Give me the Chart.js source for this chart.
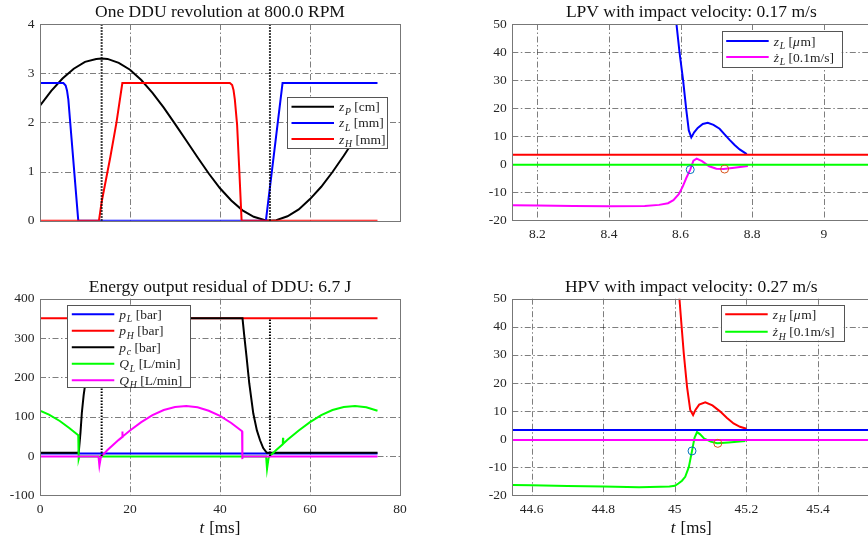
<!DOCTYPE html>
<html>
<head>
<meta charset="utf-8">
<script src="https://cdn.jsdelivr.net/npm/chart.js@4.4.1/dist/chart.umd.min.js"></script>
<style>
  html, body { margin: 0; padding: 0; background: #fff; overflow: hidden; }
  #fig { position: relative; width: 868px; height: 542px; overflow: hidden; }
  #fig canvas { position: absolute; }
</style>
</head>
<body>
<div id="fig">
  <canvas id="ddu" width="434" height="271" style="left:0;top:0"></canvas>
  <canvas id="energy" width="434" height="271" style="left:0;top:271px"></canvas>
  <canvas id="lpv" width="466" height="271" style="left:434px;top:0"></canvas>
  <canvas id="hpv" width="466" height="271" style="left:434px;top:271px"></canvas>
</div>
<script>
// ---- one DDU revolution (t in ms) ----
const tPiston = [0,2.5,5,7.5,10,12.5,13.7,15,17.5,20,22.5,25,27.5,30,32.5,35,37.5,40,42.5,45,47.5,50,51.1,52.5,55,57.5,60,62.5,65,67.5,70,72.5,75];
const zPiston = [2.34,2.64,2.89,3.09,3.23,3.29,3.30,3.29,3.21,3.07,2.86,2.60,2.30,1.97,1.63,1.29,0.96,0.66,0.41,0.21,0.08,0.01,0,0.01,0.09,0.23,0.44,0.69,0.99,1.32,1.67,2.01,2.34];
const tZL = [0,5.2,5.7,6.0,6.3,7,7.5,8,8.5,50.2,53.9,75];
const zL = [2.8,2.8,2.75,2.65,2.46,1.68,1.12,0.56,0,0,2.8,2.8];
const tZH = [0,13.1,13.7,15.6,17,18.3,42.2,42.7,43.0,43.3,43.8,44.3,44.8,75];
const zH = [0,0,0.38,1.28,2.0,2.8,2.8,2.76,2.66,2.46,1.95,1.0,0,0];
const tDeadCentre = [13.7, 51.1];

// ---- energy / pressures / flows ----
const tPL = [0, 75];
const pL = [6, 6];
const tPH = [0, 75];
const pH = [350, 350];
const tPc = [0,8.6,9.0,9.3,9.7,10.2,10.8,11.5,12.3,13.0,45.0,45.4,45.9,46.5,47.4,48.2,48.9,49.6,50.4,75];
const pc = [8,8,60,110,155,195,245,295,335,350,350,305,252,185,108,65,40,20,8,8];
const tQL = [0,0,2,4.4,6.5,8.5,8.6,8.75,50.25,50.45,50.8,51.1,52.5,53.95,54.0,54.05,55,57.5,60,62.5,65,67.5,70,72.5,75];
const QL = [147,115,105,89,71,53,-8,-1.5,-1.5,-33,-5,0,15,30,46,31,41,65,86,104,117,124.5,127,124,115];
const tQH = [0,13.0,13.2,13.5,13.7,15,17.5,18.25,18.3,18.35,20,22.5,25,27.5,30,32.5,35,37.5,40,42.5,44.9,44.9,45.05,75];
const QH = [-1.5,-1.5,-25,-5,0,15,41,48,62,49,65,86,104,117,124.5,127,124,115,102,84,63,-8,-1.5,-1.5];
const pcDotTop = 350;

// ---- LPV closing ----
const tLpvZ = [8.586,8.597,8.607,8.616,8.623,8.630,8.638,8.648,8.662,8.676,8.692,8.709,8.723,8.737,8.751,8.765,8.785];
const lpvZ = [53,40,30,19.3,12,9.5,11.3,12.9,14.3,14.7,14.0,12.6,10.6,8.6,6.8,5.2,3.5];
const tLpvV = [8.13,8.2,8.3,8.4,8.5,8.54,8.565,8.58,8.595,8.606,8.616,8.627,8.636,8.645,8.66,8.68,8.70,8.72,8.75,8.788];
const lpvV = [-14.7,-14.85,-15.0,-15.1,-15.0,-14.6,-14.0,-12.9,-10.8,-8.1,-5.0,-2.0,1.2,1.9,1.0,-0.8,-1.7,-1.8,-1.3,-0.7];
const tLpvSpan = [8.13, 9.13];
const lpvOtherZ = [3.3, 3.3];
const lpvOtherV = [-0.3, -0.3];
const tLpvMarks = [8.627, 8.723];
const vLpvMarks = [-2.0, -1.8];

// ---- HPV closing ----
const tHpvZ = [45.011,45.019,45.025,45.034,45.043,45.051,45.058,45.068,45.085,45.105,45.127,45.145,45.164,45.182,45.2];
const hpvZ = [53,40,30.5,18.7,10.4,8.6,10.5,12.3,13.1,12.0,9.8,7.6,5.6,4.4,3.7];
const tHpvV = [44.546,44.6,44.7,44.8,44.9,44.96,44.985,45.0,45.01,45.02,45.029,45.039,45.048,45.055,45.062,45.07,45.081,45.1,45.118,45.15,45.197];
const hpvV = [-16.3,-16.4,-16.7,-16.9,-17.1,-17.0,-16.9,-16.6,-15.8,-14.8,-13.4,-10.0,-4.2,0.5,2.5,1.8,0.3,-0.9,-1.5,-1.2,-0.7];
const tHpvSpan = [44.546, 45.546];
const hpvOtherZ = [3.25, 3.25];
const hpvOtherV = [-0.3, -0.3];
const tHpvMarks = [45.048, 45.120];
const vHpvMarks = [-4.2, -1.5];

// ---- ticks ----
const msTicks = [0, 20, 40, 60, 80];
const dduY = [0, 1, 2, 3, 4];
const energyY = [-100, 0, 100, 200, 300, 400];
const lpvX = [8.2, 8.4, 8.6, 8.8, 9];
const hpvX = [44.6, 44.8, 45, 45.2, 45.4];
const valveY = [-20, -10, 0, 10, 20, 30, 40, 50];

const SERIF = '"Liberation Serif", "Times New Roman", serif';
const markColors = ['#0072BD', '#D95319'];

function series(ts, vs, color, extra) {
    return Object.assign({
        data: ts.map((t, i) => ({ x: t, y: vs[i] })),
        borderColor: color,
        borderWidth: 2,
        pointRadius: 0,
        fill: false,
        tension: 0
    }, extra || {});
}

function marks(ts, vs) {
    return ts.map((t, i) => ({
        data: [{ x: t, y: vs[i] }],
        showLine: false,
        pointRadius: 4,
        pointBorderWidth: 1,
        pointBorderColor: markColors[i],
        pointBackgroundColor: 'rgba(0,0,0,0)',
        borderColor: markColors[i]
    }));
}

// text with italic / subscript pieces
function drawRich(ctx, x, y, segs, size) {
    segs.forEach(([txt, f]) => {
        const it = f.indexOf('i') >= 0, sub = f.indexOf('s') >= 0;
        const fs = sub ? size * 0.72 : size;
        ctx.font = (it ? 'italic ' : '') + fs + 'px ' + SERIF;
        ctx.fillText(txt, x, sub ? y + size * 0.25 : y);
        x += ctx.measureText(txt).width + (it && !sub ? 0.8 : 0);
    });
    return x;
}

const matlabAxes = {
    id: 'matlabAxes',
    beforeDatasetsDraw(chart) {
        const { ctx, chartArea: a, scales: { x, y } } = chart;
        ctx.save();
        ctx.strokeStyle = 'rgba(40,40,40,0.6)';
        ctx.lineWidth = 1;
        ctx.setLineDash([6, 2.5, 1.5, 2.5]);
        ctx.beginPath();
        x.ticks.forEach(t => {
            if (t.value <= x.min || t.value >= x.max) return;
            const px = Math.round(x.getPixelForValue(t.value)) + 0.5;
            ctx.moveTo(px, a.top);
            ctx.lineTo(px, a.bottom);
        });
        y.ticks.forEach(t => {
            if (t.value <= y.min || t.value >= y.max) return;
            const py = Math.round(y.getPixelForValue(t.value)) + 0.5;
            ctx.moveTo(a.left, py);
            ctx.lineTo(a.right, py);
        });
        ctx.stroke();
        ctx.restore();
    },
    afterDraw(chart, args, opts) {
        const { ctx, chartArea: a } = chart;
        ctx.save();
        // box
        ctx.strokeStyle = '#777';
        ctx.lineWidth = 1;
        const l = Math.round(a.left) + 0.5, t = Math.round(a.top) + 0.5;
        ctx.strokeRect(l, t, Math.round(a.right) - Math.round(a.left), Math.round(a.bottom) - Math.round(a.top));

        // title
        ctx.fillStyle = '#111';
        ctx.textAlign = 'center';
        ctx.textBaseline = 'alphabetic';
        ctx.font = '17.5px ' + SERIF;
        ctx.fillText(opts.title, (a.left + a.right) / 2, a.top - 7);

        // x label
        if (opts.xlabel) {
            ctx.textAlign = 'left';
            ctx.font = 'italic 17px ' + SERIF;
            const w1 = ctx.measureText('t').width + 1;
            ctx.font = '17px ' + SERIF;
            const w2 = ctx.measureText(' [ms]').width;
            const x0 = (a.left + a.right) / 2 - (w1 + w2) / 2;
            drawRich(ctx, x0, a.bottom + 38, [['t', 'i'], [' [ms]', '']], 17);
        }

        // legend
        const L = opts.legend;
        if (L) {
            ctx.fillStyle = '#fff';
            ctx.fillRect(L.x, L.y, L.w, L.h);
            ctx.strokeStyle = '#555';
            ctx.lineWidth = 1;
            ctx.strokeRect(Math.round(L.x) + 0.5, Math.round(L.y) + 0.5, Math.round(L.w), Math.round(L.h));
            L.items.forEach((segs, i) => {
                const yy = L.y0 + i * L.dy;
                ctx.strokeStyle = chart.data.datasets[i].borderColor;
                ctx.lineWidth = 2;
                ctx.beginPath();
                ctx.moveTo(L.x + 4.5, yy);
                ctx.lineTo(L.x + 47, yy);
                ctx.stroke();
                ctx.fillStyle = '#222';
                ctx.textAlign = 'left';
                ctx.textBaseline = 'alphabetic';
                drawRich(ctx, L.x + 52, yy + 4.5, segs, 13.5);
            });
        }
        ctx.restore();
    }
};

function makeAxes(id, box, xRange, yRange, xTicks, yTicks, showX, datasets, look) {
    const cv = document.getElementById(id);
    const W = cv.width, H = cv.height;
    const tickFont = { family: SERIF, size: 13.5 };
    return new Chart(cv, {
        type: 'line',
        data: { datasets: datasets.map((d, i) => Object.assign(d, { order: -i })) },
        options: {
            responsive: false,
            animation: false,
            events: [],
            layout: { padding: { left: 0, top: box.top, right: W - box.right, bottom: 0 } },
            plugins: {
                legend: { display: false },
                tooltip: { enabled: false },
                matlabAxes: look
            },
            scales: {
                x: {
                    type: 'linear',
                    min: xRange[0],
                    max: xRange[1],
                    afterFit: s => { s.height = H - box.bottom; },
                    afterBuildTicks: s => { s.ticks = xTicks.map(v => ({ value: v })); },
                    ticks: {
                        display: showX,
                        padding: 6.5,
                        color: '#262626',
                        font: tickFont,
                        autoSkip: false,
                        maxRotation: 0,
                        callback: v => String(v)
                    },
                    grid: { display: false, drawTicks: false },
                    border: { display: false }
                },
                y: {
                    type: 'linear',
                    min: yRange[0],
                    max: yRange[1],
                    afterFit: s => { s.width = box.left; },
                    afterBuildTicks: s => { s.ticks = yTicks.map(v => ({ value: v })); },
                    ticks: {
                        padding: 5.5,
                        color: '#262626',
                        font: tickFont,
                        autoSkip: false,
                        callback: v => String(v)
                    },
                    grid: { display: false, drawTicks: false },
                    border: { display: false }
                }
            }
        },
        plugins: [matlabAxes]
    });
}

const dotted = { borderDash: [1.5, 1.5], borderWidth: 2 };

makeAxes('ddu', { left: 40, top: 24, right: 400, bottom: 220.7 }, [0, 80], [0, 4], msTicks, dduY, false, [
    series(tPiston, zPiston, '#000000'),
    series(tZL, zL, '#0000ff'),
    series(tZH, zH, '#ff0000'),
    series([tDeadCentre[0], tDeadCentre[0]], [0, 4], '#000000', dotted),
    series([tDeadCentre[1], tDeadCentre[1]], [0, 4], '#000000', dotted)
], {
    title: 'One DDU revolution at 800.0 RPM',
    legend: {
        x: 287, y: 97, w: 100, h: 51, y0: 106.7, dy: 16.2,
        items: [
            [['z', 'i'], ['P', 'is'], [' [cm]', '']],
            [['z', 'i'], ['L', 'is'], [' [mm]', '']],
            [['z', 'i'], ['H', 'is'], [' [mm]', '']]
        ]
    }
});

makeAxes('energy', { left: 40, top: 27.7, right: 400, bottom: 224.3 }, [0, 80], [-100, 400], msTicks, energyY, true, [
    series(tPL, pL, '#0000ff'),
    series(tPH, pH, '#ff0000'),
    series(tPc, pc, '#000000'),
    series(tQL, QL, '#00ff00'),
    series(tQH, QH, '#ff00ff'),
    series([tDeadCentre[0], tDeadCentre[0]], [0, pcDotTop], '#000000', dotted),
    series([tDeadCentre[1], tDeadCentre[1]], [0, pcDotTop], '#000000', dotted)
], {
    title: 'Energy output residual of DDU: 6.7 J',
    xlabel: true,
    legend: {
        x: 67.3, y: 34, w: 123, h: 82, y0: 43.3, dy: 16.5,
        items: [
            [['p', 'i'], ['L', 'is'], [' [bar]', '']],
            [['p', 'i'], ['H', 'is'], [' [bar]', '']],
            [['p', 'i'], ['c', 'is'], [' [bar]', '']],
            [['Q', 'i'], ['L', 'is'], [' [L/min]', '']],
            [['Q', 'i'], ['H', 'is'], [' [L/min]', '']]
        ]
    }
});

makeAxes('lpv', { left: 78.3, top: 24, right: 436.3, bottom: 220 }, tLpvSpan, [-20, 50], lpvX, valveY, true, [
    series(tLpvZ, lpvZ, '#0000ff'),
    series(tLpvV, lpvV, '#ff00ff'),
    series(tLpvSpan, lpvOtherZ, '#ff0000'),
    series(tLpvSpan, lpvOtherV, '#00ff00')
].concat(marks(tLpvMarks, vLpvMarks)), {
    title: 'LPV with impact velocity: 0.17 m/s',
    legend: {
        x: 287.7, y: 31, w: 120, h: 36, y0: 41, dy: 16,
        items: [
            [['z', 'i'], ['L', 'is'], [' [', ''], ['μ', 'i'], ['m]', '']],
            [['ż', 'i'], ['L', 'is'], [' [0.1m/s]', '']]
        ]
    }
});

makeAxes('hpv', { left: 78.3, top: 27.7, right: 436.3, bottom: 224.3 }, tHpvSpan, [-20, 50], hpvX, valveY, true, [
    series(tHpvZ, hpvZ, '#ff0000'),
    series(tHpvV, hpvV, '#00ff00'),
    series(tHpvSpan, hpvOtherZ, '#0000ff'),
    series(tHpvSpan, hpvOtherV, '#ff00ff')
].concat(marks(tHpvMarks, vHpvMarks)), {
    title: 'HPV with impact velocity: 0.27 m/s',
    xlabel: true,
    legend: {
        x: 286.7, y: 34, w: 122.6, h: 35.7, y0: 43.3, dy: 17.4,
        items: [
            [['z', 'i'], ['H', 'is'], [' [', ''], ['μ', 'i'], ['m]', '']],
            [['ż', 'i'], ['H', 'is'], [' [0.1m/s]', '']]
        ]
    }
});
</script>
</body>
</html>
